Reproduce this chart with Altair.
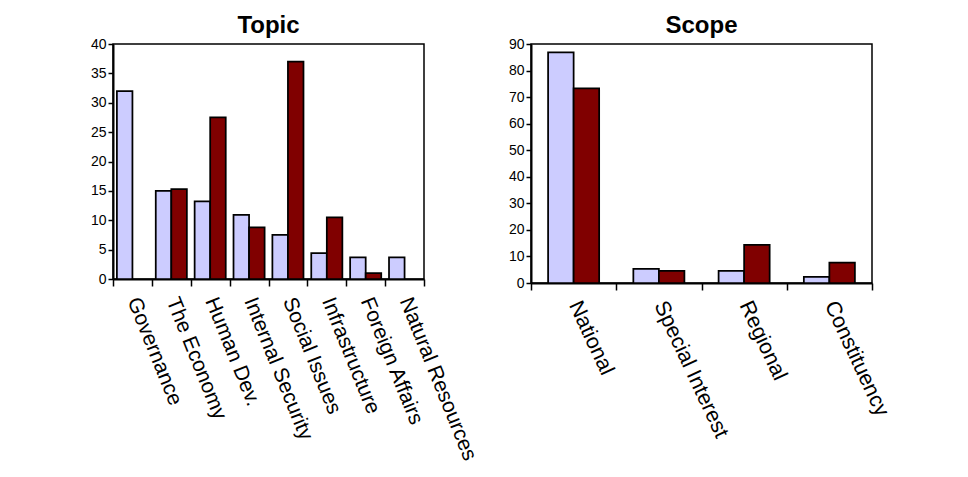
import altair as alt
import pandas as pd

topic_categories = ["Governance", "The Economy", "Human Dev.", "Internal Security",
                    "Social Issues", "Infrastructure", "Foreign Affairs", "Natural Resources"]
topic_series_a = [32, 15.0, 13.2, 10.9, 7.5, 4.4, 3.7, 3.7]
topic_series_b = [None, 15.3, 27.5, 8.8, 37.0, 10.5, 1.0, None]

scope_categories = ["National", "Special Interest", "Regional", "Constituency"]
scope_series_a = [86.8, 5.3, 4.6, 2.3]
scope_series_b = [73.3, 4.6, 14.4, 7.7]

series_names = ["A", "B"]
colors = ["#CCCCFF", "#800000"]


def long_df(cats, a, b):
    rows = []
    for c, va, vb in zip(cats, a, b):
        if va is not None:
            rows.append({"cat": c, "series": "A", "value": va})
        if vb is not None:
            rows.append({"cat": c, "series": "B", "value": vb})
    return pd.DataFrame(rows)


def panel(df, cats, title, ymax, ystep, w, h, angle, lfs, pad_outer):
    return alt.Chart(df).mark_bar(stroke="black", strokeWidth=1.75).encode(
        x=alt.X("cat:N", sort=cats, title=None,
                scale=alt.Scale(paddingInner=0, paddingOuter=0),
                axis=alt.Axis(labelAngle=angle, labelAlign="left", labelBaseline="middle",
                              labelFontSize=lfs, labelPadding=12, tickBand="extent",
                              tickSize=7, labelLimit=300)),
        xOffset=alt.XOffset("series:N", sort=series_names,
                            scale=alt.Scale(paddingOuter=pad_outer, paddingInner=0)),
        y=alt.Y("value:Q", title=None,
                scale=alt.Scale(domain=[0, ymax], nice=False),
                axis=alt.Axis(values=list(range(0, ymax + 1, ystep)), tickSize=5,
                              labelFontSize=14, grid=False, labelPadding=2)),
        color=alt.Color("series:N", scale=alt.Scale(domain=series_names, range=colors),
                        legend=None),
    ).properties(
        width=w, height=h,
        title=alt.TitleParams(title, fontSize=24, fontWeight="bold", offset=-1,
                              font="Liberation Sans", color="black"),
    )


left = panel(long_df(topic_categories, topic_series_a, topic_series_b),
             topic_categories, "Topic", 40, 5, 311, 235, 68, 21, 0.25)
right = panel(long_df(scope_categories, scope_series_a, scope_series_b),
              scope_categories, "Scope", 90, 10, 341, 239, 65, 21.5, 0.67)

chart = alt.hconcat(left, right, spacing=107, bounds="flush").resolve_scale(
    xOffset="independent", x="independent", y="independent", color="shared"
).properties(
    padding={"left": 81, "top": 5, "right": 5, "bottom": 5},
    background="white",
).configure_view(
    stroke="black", strokeWidth=1.5
).configure_axis(
    domainColor="black", domainWidth=2, tickColor="black", tickWidth=1.5,
    labelColor="black", labelFont="Liberation Sans",
)

chart.save("out.html", embed_options={"renderer": "svg", "actions": False})
